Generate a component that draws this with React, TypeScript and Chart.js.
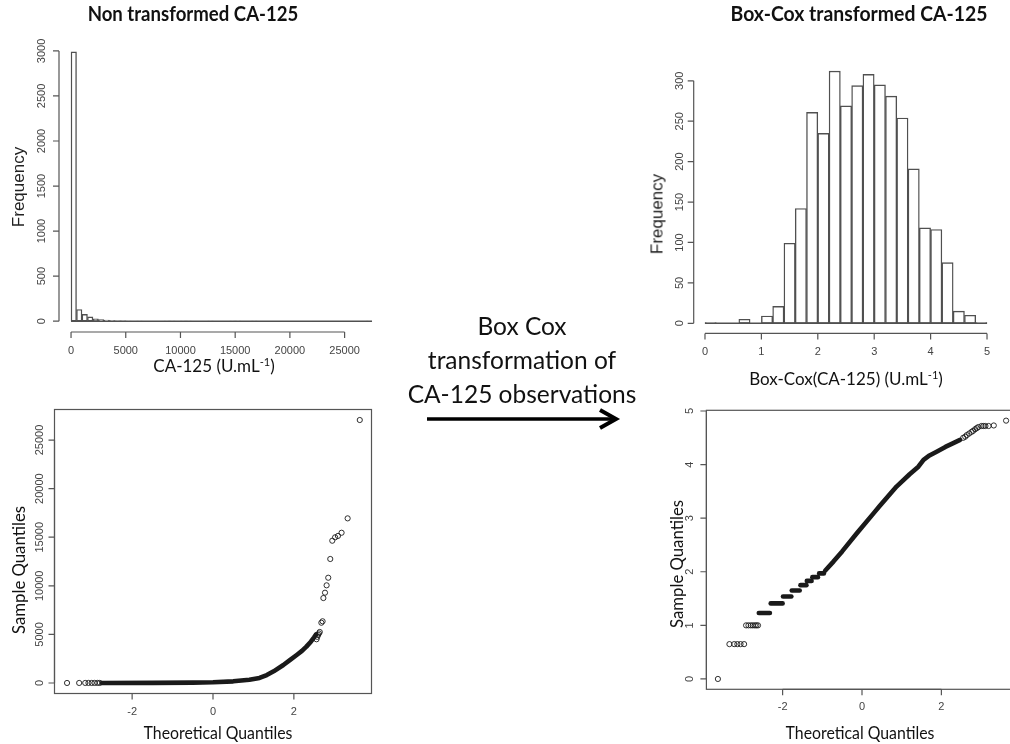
import React, { useEffect, useRef } from 'react';
import { Chart, registerables } from 'chart.js';
Chart.register(...registerables);

// ---------------- data ----------------
// Histogram of raw CA-125 (bins of 500 U/mL starting at 0)
const HIST1_BIN_START = 0;
const HIST1_BIN_WIDTH = 500;
const HIST1_COUNTS = [
  2990, 130, 76, 48, 26, 19, 11, 6, 4, 5,
  2, 0, 2, 0, 0, 0, 0, 1, 1, 0,
  1, 1, 0, 0, 0, 1, 0, 0, 0, 2,
  2, 0, 0, 1, 0, 0, 0, 0, 0, 0,
  0, 0, 0, 0, 0, 0, 0, 0, 0, 0,
  0, 0, 0, 0, 1,
];
const HIST1_X_TICKS = [0, 5000, 10000, 15000, 20000, 25000];
const HIST1_Y_TICKS = [0, 500, 1000, 1500, 2000, 2500, 3000];

// Histogram of Box-Cox transformed CA-125 (bins of 0.2 starting at 0)
const HIST2_BIN_START = 0;
const HIST2_BIN_WIDTH = 0.2;
const HIST2_COUNTS = [
  1, 0, 0, 5, 0, 9, 21, 99, 142, 261, 235, 312, 269,
  294, 308, 295, 281, 254, 191, 118, 116, 75, 15, 10, 1,
];
const HIST2_X_TICKS = [0, 1, 2, 3, 4, 5];
const HIST2_Y_TICKS = [0, 50, 100, 150, 200, 250, 300];

// Normal Q-Q plot of raw CA-125
const QQ1_LINE_Q = [-2.75, -1.5, -0.5, 0, 0.5, 0.9, 1.15, 1.33, 1.5, 1.74, 1.9, 2.07, 2.2, 2.31, 2.42, 2.5, 2.55];
const QQ1_LINE_V = [5, 10, 40, 80, 170, 340, 520, 820, 1200, 1850, 2350, 2880, 3300, 3740, 4250, 4700, 5000];
const QQ1_PTS_Q = [
  -3.61, -3.31, -3.16, -3.08, -3.0, -2.93, -2.86, -2.8,
  2.56, 2.58, 2.6, 2.62, 2.64, 2.68, 2.71, 2.73, 2.77, 2.81, 2.85, 2.9,
  2.95, 3.02, 3.09, 3.18, 3.33, 3.63,
];
const QQ1_PTS_V = [
  2, 3, 4, 5, 5, 6, 6, 7,
  4500, 4750, 4950, 5100, 5250, 6200, 6350, 8740, 9290, 10050, 10830, 12760,
  14640, 14990, 15130, 15460, 16940, 27060,
];
const QQ1_X_TICKS = [-2, 0, 2];
const QQ1_Y_TICKS = [0, 5000, 10000, 15000, 20000, 25000];

// Normal Q-Q plot of Box-Cox transformed CA-125
const QQ2_PTS_Q = [
  -3.63, -3.34, -3.22, -3.14, -3.06, -2.97,
  -2.92, -2.86, -2.8, -2.75, -2.7, -2.66, -2.62,
  2.55, 2.6, 2.64, 2.7, 2.76, 2.8, 2.85, 2.89, 2.93, 3.01, 3.06, 3.11, 3.19, 3.32, 3.63,
];
const QQ2_PTS_V = [
  0.0, 0.65, 0.65, 0.65, 0.65, 0.65,
  1.0, 1.0, 1.0, 1.0, 1.0, 1.0, 1.0,
  4.5, 4.52, 4.55, 4.58, 4.61, 4.63, 4.66, 4.68, 4.7, 4.72, 4.72, 4.72, 4.72, 4.73, 4.82,
];
const QQ2_STEP_V = [1.23, 1.41, 1.54, 1.65, 1.75, 1.83, 1.9, 1.97];
const QQ2_STEP_Q_FROM = [-2.6, -2.3, -1.99, -1.77, -1.55, -1.39, -1.25, -1.08];
const QQ2_STEP_Q_TO = [-2.32, -2.0, -1.78, -1.57, -1.4, -1.27, -1.11, -0.96];
const QQ2_LINE_Q = [-0.93, -0.72, -0.5, -0.13, 0.29, 0.45, 0.87, 1.2, 1.42, 1.55, 1.7, 1.88, 2.1, 2.3, 2.47];
const QQ2_LINE_V = [2.02, 2.19, 2.38, 2.72, 3.09, 3.23, 3.59, 3.82, 3.96, 4.09, 4.17, 4.24, 4.33, 4.4, 4.46];
const QQ2_X_TICKS = [-2, 0, 2];
const QQ2_Y_TICKS = [0, 1, 2, 3, 4, 5];

// ---------------- helpers ----------------
const AXIS_COLOR = '#555';
const BAR_COLOR = '#505050';
const POINT_COLOR = '#1a1a1a';

type AxesCfg = {
  xTicks: number[];
  yTicks: number[];
  box?: boolean;
  baseline?: [number, number];
  xLabelGap: number;
  yLabelGap: number;
};

function makeAxesPlugin(cfg: AxesCfg) {
  return {
    id: 'rAxes',
    afterDatasetsDraw(chart: any) {
      const { ctx, chartArea } = chart;
      const xs = chart.scales.x;
      const ys = chart.scales.y;
      ctx.save();
      ctx.strokeStyle = AXIS_COLOR;
      ctx.lineWidth = 1.2;
      if (cfg.baseline) {
        const y0 = ys.getPixelForValue(0);
        ctx.strokeStyle = BAR_COLOR;
        ctx.lineWidth = 1.4;
        ctx.beginPath();
        ctx.moveTo(xs.getPixelForValue(cfg.baseline[0]), y0);
        ctx.lineTo(xs.getPixelForValue(cfg.baseline[1]), y0);
        ctx.stroke();
        ctx.strokeStyle = AXIS_COLOR;
        ctx.lineWidth = 1.2;
      }
      if (cfg.box) {
        ctx.strokeRect(chartArea.left, chartArea.top, chartArea.right - chartArea.left, chartArea.bottom - chartArea.top);
      }
      const tickLen = 6;
      ctx.fillStyle = '#444';
      ctx.font = '11px "Liberation Sans", Arial, sans-serif';
      // x axis
      const yb = chartArea.bottom;
      const xp = cfg.xTicks.map((v) => xs.getPixelForValue(v));
      ctx.beginPath();
      ctx.moveTo(xp[0], yb);
      ctx.lineTo(xp[xp.length - 1], yb);
      xp.forEach((p) => {
        ctx.moveTo(p, yb);
        ctx.lineTo(p, yb + tickLen);
      });
      ctx.stroke();
      ctx.textAlign = 'center';
      ctx.textBaseline = 'middle';
      cfg.xTicks.forEach((v, i) => ctx.fillText(String(v), xp[i], yb + cfg.xLabelGap));
      // y axis
      const xl = chartArea.left;
      const yp = cfg.yTicks.map((v) => ys.getPixelForValue(v));
      ctx.beginPath();
      ctx.moveTo(xl, yp[0]);
      ctx.lineTo(xl, yp[yp.length - 1]);
      yp.forEach((p) => {
        ctx.moveTo(xl, p);
        ctx.lineTo(xl - tickLen, p);
      });
      ctx.stroke();
      cfg.yTicks.forEach((v, i) => {
        ctx.save();
        ctx.translate(xl - cfg.yLabelGap, yp[i]);
        ctx.rotate(-Math.PI / 2);
        ctx.fillText(String(v), 0, 0);
        ctx.restore();
      });
      ctx.restore();
    },
  };
}

function histConfig(
  counts: number[], start: number, width: number,
  xMin: number, xMax: number, yMin: number, yMax: number,
  padding: any, axes: AxesCfg,
) {
  return {
    type: 'bar',
    data: {
      datasets: [
        {
          data: counts.map((c, i) => ({ x: start + (i + 0.5) * width, y: c })),
          backgroundColor: '#ffffff',
          borderColor: BAR_COLOR,
          borderWidth: 1.4,
          borderSkipped: false,
          barPercentage: 1,
          categoryPercentage: 1,
        },
      ],
    },
    options: {
      animation: false,
      responsive: false,
      events: [],
      layout: { padding },
      plugins: { legend: { display: false }, tooltip: { enabled: false } },
      scales: {
        x: {
          type: 'linear', min: xMin, max: xMax, display: false, offset: false,
          afterBuildTicks: (s: any) => { s.ticks = axes.xTicks.map((v) => ({ value: v })); },
        },
        y: { type: 'linear', min: yMin, max: yMax, display: false },
      },
    },
    plugins: [makeAxesPlugin(axes)],
  };
}

const pts = (q: number[], v: number[]) => q.map((x, i) => ({ x, y: v[i] }));

const pointDs = (data: any[]) => ({
  data,
  showLine: false,
  pointStyle: 'circle',
  pointRadius: 2.6,
  pointBorderWidth: 0.9,
  pointBorderColor: POINT_COLOR,
  pointBackgroundColor: 'rgba(0,0,0,0)',
});

const lineDs = (data: any[]) => ({
  data,
  showLine: true,
  pointRadius: 0,
  borderColor: POINT_COLOR,
  borderWidth: 4.6,
  borderCapStyle: 'round',
  borderJoinStyle: 'round',
  fill: false,
  tension: 0,
});

function qqConfig(datasets: any[], xMin: number, xMax: number, yMin: number, yMax: number, padding: any, axes: AxesCfg) {
  return {
    type: 'scatter',
    data: { datasets },
    options: {
      animation: false,
      responsive: false,
      events: [],
      layout: { padding },
      plugins: { legend: { display: false }, tooltip: { enabled: false } },
      scales: {
        x: { type: 'linear', min: xMin, max: xMax, display: false },
        y: { type: 'linear', min: yMin, max: yMax, display: false },
      },
    },
    plugins: [makeAxesPlugin(axes)],
  };
}

function ChartCanvas({ make, left, top, width, height }: any) {
  const ref = useRef<HTMLCanvasElement>(null);
  useEffect(() => {
    const chart = new Chart(ref.current as HTMLCanvasElement, make());
    return () => chart.destroy();
  }, []);
  return (
    <canvas
      ref={ref}
      width={width}
      height={height}
      style={{ position: 'absolute', left, top, width, height }}
    />
  );
}

function Label({ x, y, rotate, sx, style, children }: any) {
  return (
    <div
      style={{
        position: 'absolute',
        left: x,
        top: y,
        transform: `translate(-50%, -50%)${rotate ? ' rotate(-90deg)' : ''}${sx ? ` scaleX(${sx})` : ''}`,
        whiteSpace: 'nowrap',
        lineHeight: 1,
        color: '#111',
        ...style,
      }}
    >
      {children}
    </div>
  );
}

const TITLE_FONT = { fontFamily: 'Lato, "Open Sans", sans-serif', fontWeight: 700, fontSize: 20 };
const R_FONT = { fontFamily: '"Liberation Sans", Arial, sans-serif', fontSize: 17, color: '#222' };
const CAL_FONT = { fontFamily: 'Lato, "Open Sans", sans-serif', fontSize: 17, color: '#111' };

export default function App() {
  return (
    <div
      style={{
        position: 'absolute', left: 0, top: 0, width: 1010, height: 744,
        overflow: 'hidden', background: '#fff',
      }}
    >
      <ChartCanvas
        left={0} top={0} width={400} height={380}
        make={() =>
          histConfig(HIST1_COUNTS, HIST1_BIN_START, HIST1_BIN_WIDTH, -1100, 28600, -120, 3110,
            { left: 59, right: 16, top: 41, bottom: 48 },
            { xTicks: HIST1_X_TICKS, yTicks: HIST1_Y_TICKS, baseline: [0, 27500], xLabelGap: 19, yLabelGap: 17 })
        }
      />
      <ChartCanvas
        left={620} top={0} width={390} height={380}
        make={() =>
          histConfig(HIST2_COUNTS, HIST2_BIN_START, HIST2_BIN_WIDTH, -0.2, 5.2, -12.5, 324.5,
            { left: 73.7, right: 11.7, top: 61, bottom: 46.6 },
            { xTicks: HIST2_X_TICKS, yTicks: HIST2_Y_TICKS, baseline: [0, 5], xLabelGap: 19, yLabelGap: 14 })
        }
      />
      <ChartCanvas
        left={0} top={390} width={400} height={354}
        make={() =>
          qqConfig(
            [lineDs(pts(QQ1_LINE_Q, QQ1_LINE_V)), pointDs(pts(QQ1_PTS_Q, QQ1_PTS_V))],
            -3.92, 3.92, -1082, 28142,
            { left: 54.5, right: 28.5, top: 19.5, bottom: 50.5 },
            { xTicks: QQ1_X_TICKS, yTicks: QQ1_Y_TICKS, box: true, xLabelGap: 18, yLabelGap: 15 })
        }
      />
      <ChartCanvas
        left={620} top={390} width={410} height={354}
        make={() =>
          qqConfig(
            [
              lineDs(pts(QQ2_LINE_Q, QQ2_LINE_V)),
              ...QQ2_STEP_V.map((v, i) =>
                lineDs([{ x: QQ2_STEP_Q_FROM[i], y: v }, { x: QQ2_STEP_Q_TO[i], y: v }])),
              pointDs(pts(QQ2_PTS_Q, QQ2_PTS_V)),
            ],
            -3.92, 3.92, -0.193, 5.013,
            { left: 86.4, right: 12.4, top: 20.3, bottom: 54.7 },
            { xTicks: QQ2_X_TICKS, yTicks: QQ2_Y_TICKS, box: true, xLabelGap: 18, yLabelGap: 16 })
        }
      />

      <Label x={193} y={13} sx={0.93} style={TITLE_FONT}>Non transformed CA-125</Label>
      <Label x={859} y={13} sx={0.97} style={TITLE_FONT}>Box-Cox transformed CA-125</Label>

      <Label x={18} y={187} rotate style={R_FONT}>Frequency</Label>
      <Label x={214} y={365} style={CAL_FONT}>
        CA-125 (U.mL<sup style={{ fontSize: 11 }}>-1</sup>)
      </Label>
      <Label x={657} y={214} rotate style={R_FONT}>Frequency</Label>
      <Label x={846} y={378} style={CAL_FONT}>
        Box-Cox(CA-125) (U.mL<sup style={{ fontSize: 11 }}>-1</sup>)
      </Label>

      <Label x={18} y={570} rotate sx={0.93} style={{ ...CAL_FONT, fontSize: 18 }}>Sample Quantiles</Label>
      <Label x={218} y={732} sx={0.88} style={{ ...CAL_FONT, fontSize: 18 }}>Theoretical Quantiles</Label>
      <Label x={676} y={564} rotate sx={0.93} style={{ ...CAL_FONT, fontSize: 18 }}>Sample Quantiles</Label>
      <Label x={860} y={732} sx={0.88} style={{ ...CAL_FONT, fontSize: 18 }}>Theoretical Quantiles</Label>

      <div
        style={{
          position: 'absolute', left: 372, top: 309, width: 300, textAlign: 'center',
          fontFamily: 'Lato, "Open Sans", sans-serif', fontSize: 24.5, lineHeight: '34px', color: '#111',
        }}
      >
        <div>Box Cox</div>
        <div>transformation of</div>
        <div>CA-125 observations</div>
      </div>
      <svg style={{ position: 'absolute', left: 0, top: 0 }} width={1010} height={744}>
        <line x1={427} y1={419} x2={614} y2={419} stroke="#000" strokeWidth={3.5} />
        <polyline points="600,410 616,419 600,428" fill="none" stroke="#000" strokeWidth={4} strokeLinejoin="miter" />
      </svg>
    </div>
  );
}
